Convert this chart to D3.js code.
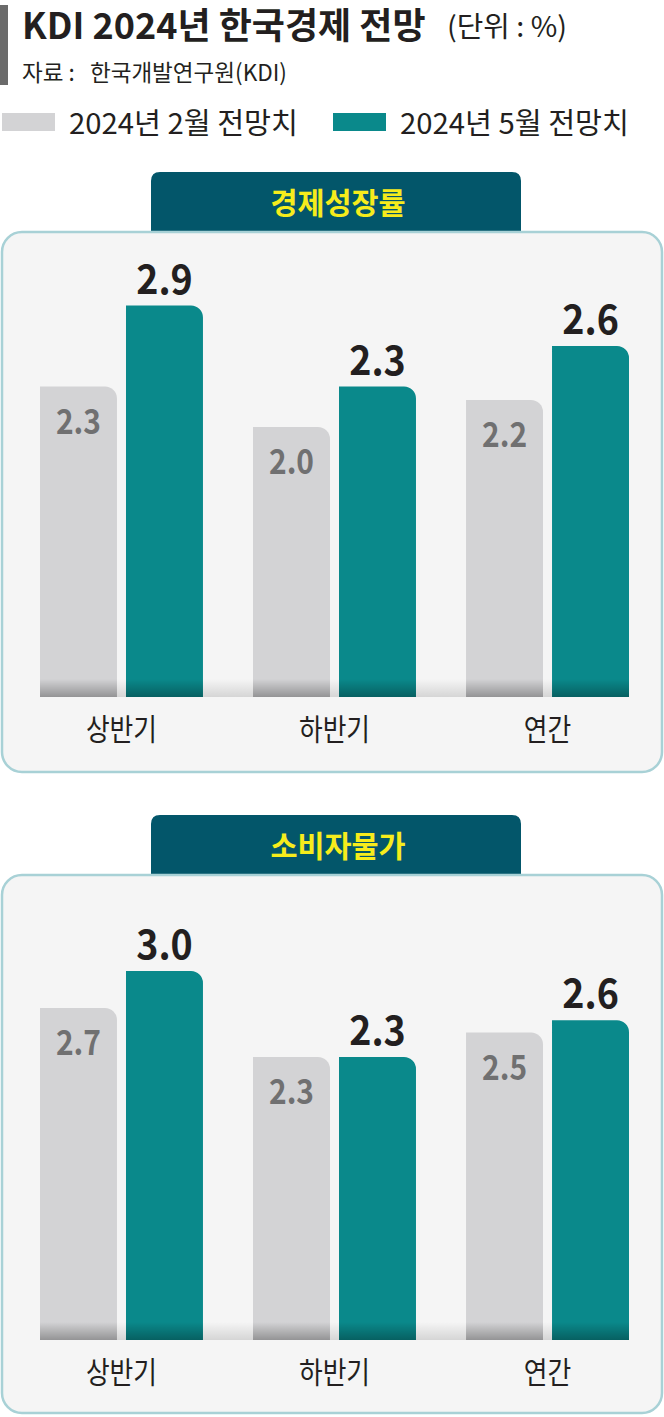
<!DOCTYPE html>
<html>
<head>
<meta charset="utf-8">
<script src="https://cdn.jsdelivr.net/npm/d3@7"></script>
<style>
  html, body { margin: 0; padding: 0; background: #fff; }
  svg { display: block; font-family: 'Noto Sans CJK KR', 'Noto Sans', sans-serif; }
  text { white-space: pre; }
</style>
</head>
<body>
<svg id="chart" width="664" height="1417"></svg>
<script>
const categories = ['상반기', '하반기', '연간'];
const seriesNames = ['2024년 2월 전망치', '2024년 5월 전망치'];
const panelTitles = ['경제성장률', '소비자물가'];
const growthFeb = [2.3, 2.0, 2.2];
const growthMay = [2.9, 2.3, 2.6];
const cpiFeb = [2.7, 2.3, 2.5];
const cpiMay = [3.0, 2.3, 2.6];

const GRAY = '#d3d3d5', TEAL = '#0a898b', DARK = '#231f20';

const svg = d3.select('#chart');
const defs = svg.append('defs');

const shade = defs.append('linearGradient').attr('id', 'shade')
  .attr('x1', 0).attr('y1', 0).attr('x2', 0).attr('y2', 1);
shade.append('stop').attr('offset', 0).attr('stop-color', '#000').attr('stop-opacity', 0);
shade.append('stop').attr('offset', 1).attr('stop-color', '#000').attr('stop-opacity', 0.3);

const band = defs.append('linearGradient').attr('id', 'band')
  .attr('x1', 0).attr('y1', 0).attr('x2', 0).attr('y2', 1);
band.append('stop').attr('offset', 0).attr('stop-color', '#000').attr('stop-opacity', 0);
band.append('stop').attr('offset', 1).attr('stop-color', '#000').attr('stop-opacity', 0.13);

// text with horizontal squeeze
function label(g, x, y, txt, o) {
  return g.append('text')
    .attr('transform', `translate(${x},${y}) scale(${o.sx || 1},1)`)
    .attr('text-anchor', o.anchor || 'start')
    .attr('font-size', o.size)
    .attr('font-weight', o.weight || 400)
    .attr('fill', o.fill || DARK)
    .text(txt);
}

// bar with rounded top-right corner
function barPath(x, y, w, h, r) {
  r = Math.min(r, h);
  return `M${x},${y + h}V${y}H${x + w - r}A${r},${r} 0 0 1 ${x + w},${y + r}V${y + h}Z`;
}

// header
svg.append('rect').attr('x', 0).attr('y', 5).attr('width', 8).attr('height', 80).attr('fill', '#6b6b6b');
label(svg, 22, 39, 'KDI 2024년 한국경제 전망', { size: 36, weight: 700, sx: 1.0 });
label(svg, 447, 37, '(단위 : %)', { size: 28, sx: 1.03 });
label(svg, 22, 81, '자료 :   한국개발연구원(KDI)', { size: 23, sx: 0.98 });

// legend
const legColors = [GRAY, TEAL];
const legX = d3.scaleOrdinal().domain(seriesNames).range([2, 333]);
seriesNames.forEach((name, i) => {
  svg.append('rect').attr('x', legX(name)).attr('y', 113).attr('width', 53).attr('height', 18)
    .attr('fill', legColors[i]);
  label(svg, legX(name) + 67, 134, name, { size: 29, sx: 1.01 });
});

const panels = [
  { title: panelTitles[0], feb: growthFeb, may: growthMay, tabTop: 172, top: 232, bottom: 772, base: 697, y3: 292 },
  { title: panelTitles[1], feb: cpiFeb, may: cpiMay, tabTop: 815, top: 875, bottom: 1413, base: 1340, y3: 971 }
];

const x = d3.scaleBand().domain(categories).range([40, 629]).paddingInner(0.235).paddingOuter(0);
const xs = d3.scaleBand().domain([0, 1]).range([0, x.bandwidth()]).paddingInner(0.105);

panels.forEach(p => {
  const g = svg.append('g');
  const y = d3.scaleLinear().domain([0, 3]).range([p.base, p.y3]);

  // tab
  g.append('path')
    .attr('d', `M151,${p.top + 2}V${p.tabTop + 9}Q151,${p.tabTop} 160,${p.tabTop}H512Q521,${p.tabTop} 521,${p.tabTop + 9}V${p.top + 2}Z`)
    .attr('fill', '#03566a');
  label(g, 338, p.top - 18, p.title, { size: 30, weight: 700, sx: 0.98, anchor: 'middle', fill: '#f6ec1c' });

  // panel box
  g.append('rect').attr('x', 2).attr('y', p.top).attr('width', 660).attr('height', p.bottom - p.top)
    .attr('rx', 20).attr('fill', '#f5f5f5').attr('stroke', '#a8d1d6').attr('stroke-width', 2.5);

  // bottom shading band
  g.append('rect').attr('x', x.range()[0]).attr('y', p.base - 18)
    .attr('width', x.range()[1] - x.range()[0]).attr('height', 18).attr('fill', 'url(#band)');

  const rows = categories.map((c, i) => ({ c, vals: [p.feb[i], p.may[i]] }));
  const grp = g.selectAll('.grp').data(rows).enter().append('g')
    .attr('transform', d => `translate(${x(d.c)},0)`);

  grp.each(function (d) {
    const gg = d3.select(this);
    d.vals.forEach((v, k) => {
      const bx = xs(k), bw = xs.bandwidth(), top = y(v);
      gg.append('path').attr('d', barPath(bx, top, bw, p.base - top, 12))
        .attr('fill', k === 0 ? GRAY : TEAL);
      gg.append('rect').attr('x', bx).attr('y', p.base - 18).attr('width', bw).attr('height', 18)
        .attr('fill', 'url(#shade)');
      if (k === 0) {
        label(gg, bx + bw / 2, top + 47, v.toFixed(1), { size: 34, weight: 700, sx: 0.88, anchor: 'middle', fill: '#707071' });
      } else {
        label(gg, bx + bw / 2, top - 12, v.toFixed(1), { size: 40, weight: 700, sx: 0.94, anchor: 'middle', fill: DARK });
      }
    });
    label(gg, x.bandwidth() / 2, p.base + 43, d.c, { size: 30, sx: 0.86, anchor: 'middle', fill: DARK });
  });
});
</script>
</body>
</html>
